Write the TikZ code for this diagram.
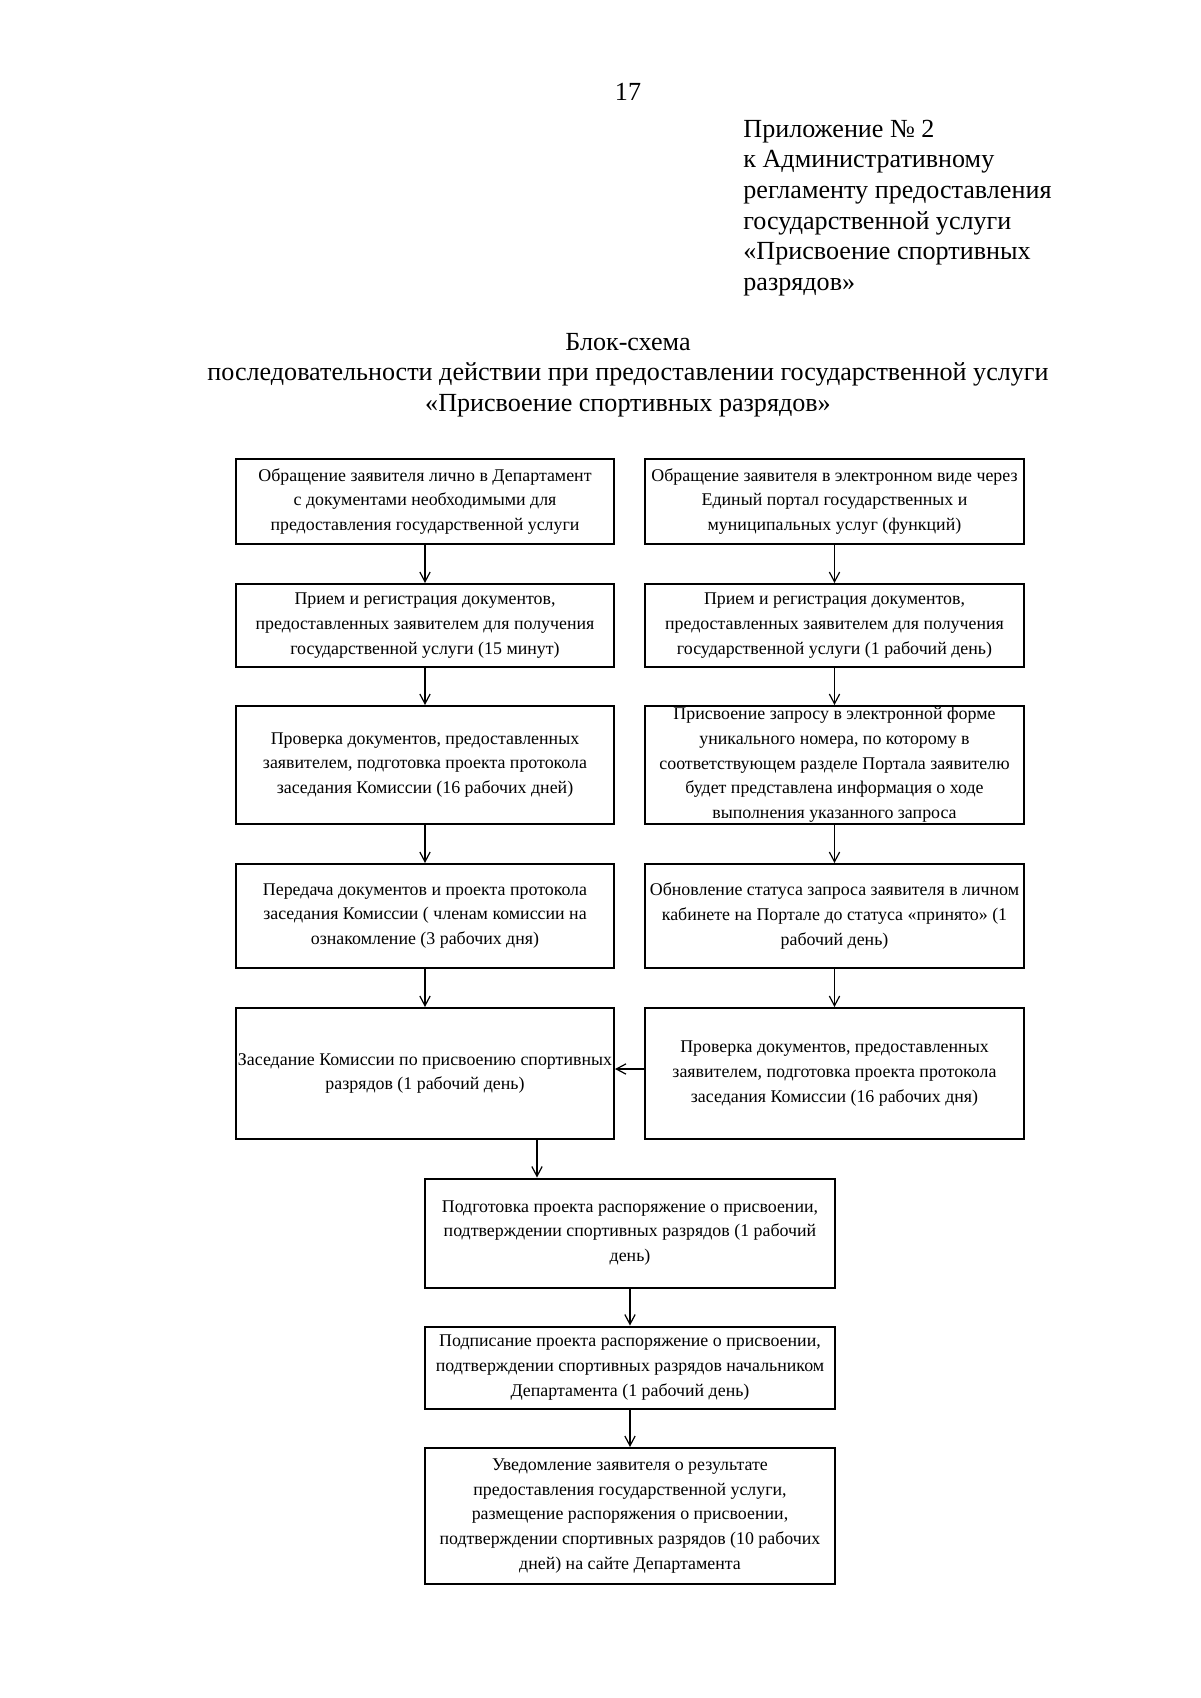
\documentclass[tikz,border=0pt]{standalone}
\usepackage{fontspec}
\setmainfont{Liberation Serif}
\usetikzlibrary{arrows.meta}
\def\pxu{0.175mm}
\tikzset{
  boxframe/.style={draw=black, line width=1pt, inner sep=0pt},
  boxtext/.style={align=center, inner sep=0pt, font=\fontsize{8.9}{12.3}\selectfont},
  arr/.style={line width=0.6pt, -{Straight Barb[length=1.7mm,width=1.8mm,line width=0.6pt]}},
  hdr/.style={inner sep=0pt, font=\fontsize{13}{15.3}\selectfont}
}
\newcommand\mybox[6]{%
  \node[boxframe, minimum width=#4*\pxu, minimum height=#5*\pxu] (#1) at (#2,#3) {};
  \node[boxtext] (#1T) at (#1.center) {#6};}
\begin{document}
\begin{tikzpicture}[x=0.175mm, y=-0.175mm]
\fill[white] (0,0) rectangle (1200,1698);
\useasboundingbox (0,0) rectangle (1200,1698);

\node[hdr] (pagenum) at (628,92) {17};
\node[hdr, align=left, anchor=west] (appx) at (743,208) {Приложение № 2\\к Административному\\регламенту предоставления\\государственной услуги\\«Присвоение спортивных\\разрядов»};
\node[hdr, align=center] (title) at (628,375) {Блок-схема\\последовательности действии при предоставлении государственной услуги\\«Присвоение спортивных разрядов»};

% left column
\mybox{l1}{425}{501.5}{378}{85}{Обращение заявителя лично в Департамент\\с документами необходимыми для\\предоставления государственной услуги}
\mybox{l2}{425}{625.5}{378}{83}{Прием и регистрация документов,\\предоставленных заявителем для получения\\государственной услуги (15 минут)}
\mybox{l3}{425}{765}{378}{118}{Проверка документов, предоставленных\\заявителем, подготовка проекта протокола\\заседания Комиссии (16 рабочих дней)}
\mybox{l4}{425}{916}{378}{104}{Передача документов и проекта протокола\\заседания Комиссии ( членам комиссии на\\ознакомление (3 рабочих дня)}
\mybox{l5}{425}{1073.5}{378}{131}{Заседание Комиссии по присвоению спортивных\\разрядов (1 рабочий день)}

% right column
\mybox{r1}{834.5}{501.5}{379}{85}{Обращение заявителя в электронном виде через\\Единый портал государственных и\\муниципальных услуг (функций)}
\mybox{r2}{834.5}{625.5}{379}{83}{Прием и регистрация документов,\\предоставленных заявителем для получения\\государственной услуги (1 рабочий день)}
\mybox{r3}{834.5}{765}{379}{118}{Присвоение запросу в электронной форме\\уникального номера, по которому в\\соответствующем разделе Портала заявителю\\будет представлена информация о ходе\\выполнения указанного запроса}
\mybox{r4}{834.5}{916}{379}{104}{Обновление статуса запроса заявителя в личном\\кабинете на Портале до статуса «принято» (1\\рабочий день)}
\mybox{r5}{834.5}{1073.5}{379}{131}{Проверка документов, предоставленных\\заявителем, подготовка проекта протокола\\заседания Комиссии (16 рабочих дня)}

% bottom column
\mybox{b6}{630}{1233}{410}{109}{Подготовка проекта распоряжение о присвоении,\\подтверждении спортивных разрядов (1 рабочий\\день)}
\mybox{b7}{630}{1367.5}{410}{82}{Подписание проекта распоряжение о присвоении,\\подтверждении спортивных разрядов начальником\\Департамента (1 рабочий день)}
\mybox{b8}{630}{1516}{410}{136}{Уведомление заявителя о результате\\предоставления государственной услуги,\\размещение распоряжения о присвоении,\\подтверждении спортивных разрядов (10 рабочих\\дней) на сайте Департамента}

% connectors
\draw[arr] (l1) -- (l2);
\draw[arr] (l2) -- (l3);
\draw[arr] (l3) -- (l4);
\draw[arr] (l4) -- (l5);
\draw[arr] (r1) -- (r2);
\draw[arr] (r2) -- (r3);
\draw[arr] (r3) -- (r4);
\draw[arr] (r4) -- (r5);
\draw[arr] (r5.west |- 0,1069) -- (l5.east |- 0,1069);
\path (l5.south) ++(112,0) coordinate (l5out);
\draw[arr] (l5out) -- (l5out |- b6.north);
\draw[arr] (b6) -- (b7);
\draw[arr] (b7) -- (b8);
\end{tikzpicture}
\end{document}
